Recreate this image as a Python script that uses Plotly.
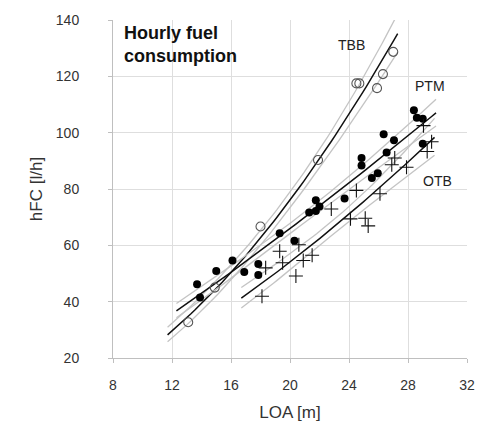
import numpy as np
import plotly.graph_objects as go

# --- data ---
tbb_loa = [13.1, 14.9, 18.0, 21.9, 24.5, 24.7, 25.9, 26.3, 27.0]
tbb_hfc = [32.7, 45.0, 66.7, 90.3, 117.5, 117.5, 115.8, 120.8, 128.7]

ptm_loa = [13.7, 13.9, 15.0, 16.1, 16.9, 17.85, 17.85, 19.3, 20.3, 21.3, 21.75, 21.75,
           22.0, 23.7, 24.85, 24.85, 25.55, 25.95, 26.35, 26.55, 27.05, 28.4, 28.6, 29.0, 29.0]
ptm_hfc = [46.2, 41.5, 50.9, 54.6, 50.5, 53.4, 49.5, 64.3, 61.6, 71.7, 72.2, 76.0,
           73.8, 76.6, 91.0, 88.3, 83.9, 85.6, 99.4, 93.0, 97.3, 108.0, 105.3, 104.9, 96.1]

otb_loa = [18.1, 18.35, 19.3, 19.5, 20.4, 20.6, 20.9, 21.5, 22.8, 24.1, 24.5, 25.1,
           25.3, 26.1, 26.9, 27.1, 27.9, 29.05, 29.3, 29.6]
otb_hfc = [41.9, 52.0, 57.9, 53.8, 49.1, 60.2, 54.6, 56.5, 72.9, 69.4, 79.5, 69.6,
           66.9, 78.3, 88.6, 91.0, 87.7, 102.5, 93.3, 96.8]

# extent of each fitted trend line (LOA, m)
tbb_fit_range = [11.7, 27.3]
ptm_fit_range = [12.3, 29.9]
otb_fit_range = [16.7, 29.8]

x_ticks = [8, 12, 16, 20, 24, 28, 32]
y_ticks = [20, 40, 60, 80, 100, 120, 140]

FONT = "Liberation Sans, Arial, sans-serif"


def power_fit(xs, ys, xr, t=2.0):
    lx, ly = np.log(xs), np.log(ys)
    b, a = np.polyfit(lx, ly, 1)
    n = len(lx)
    res = ly - (a + b * lx)
    s = np.sqrt(np.sum(res ** 2) / (n - 2))
    sxx = np.sum((lx - lx.mean()) ** 2)
    xx = np.linspace(xr[0], xr[1], 60)
    lxx = np.log(xx)
    fit = a + b * lxx
    se = s * np.sqrt(1.0 / n + (lxx - lx.mean()) ** 2 / sxx)
    return xx, np.exp(fit), np.exp(fit - t * se), np.exp(fit + t * se)


fig = go.Figure()

for xs, ys, xr in [(tbb_loa, tbb_hfc, tbb_fit_range),
                   (ptm_loa, ptm_hfc, ptm_fit_range),
                   (otb_loa, otb_hfc, otb_fit_range)]:
    xx, yf, lo, hi = power_fit(np.array(xs), np.array(ys), xr)
    for band in (lo, hi):
        fig.add_trace(go.Scatter(x=xx, y=band, mode="lines",
                                 line=dict(color="#c4c4c4", width=1.3),
                                 hoverinfo="skip", showlegend=False))
    fig.add_trace(go.Scatter(x=xx, y=yf, mode="lines",
                             line=dict(color="#111111", width=1.5),
                             hoverinfo="skip", showlegend=False))

fig.add_trace(go.Scatter(x=tbb_loa, y=tbb_hfc, mode="markers", name="TBB",
                         marker=dict(symbol="circle-open", size=9, color="#555555",
                                     line=dict(width=1.1, color="#555555")),
                         showlegend=False))
fig.add_trace(go.Scatter(x=ptm_loa, y=ptm_hfc, mode="markers", name="PTM",
                         marker=dict(symbol="circle", size=8, color="#000000"),
                         showlegend=False))
fig.add_trace(go.Scatter(x=otb_loa, y=otb_hfc, mode="markers", name="OTB",
                         marker=dict(symbol="cross-thin", size=10,
                                     line=dict(width=1.1, color="#111111")),
                         showlegend=False))

for txt, x, y in [("TBB", 24.2, 131.0), ("PTM", 29.5, 116.4), ("OTB", 30.0, 82.8)]:
    fig.add_annotation(x=x, y=y, text=txt, showarrow=False,
                       font=dict(family=FONT, size=14, color="#222222"))

fig.add_annotation(x=8.6, y=139.8, xanchor="left", yanchor="top", align="left",
                   text="<b>Hourly fuel<br>consumption</b>", showarrow=False,
                   font=dict(family=FONT, size=18, color="#111111"))

fig.update_layout(
    width=492, height=432,
    margin=dict(l=113, r=25, t=16, b=74),
    paper_bgcolor="white", plot_bgcolor="white",
    font=dict(family=FONT, size=14, color="#333333"),
    xaxis=dict(range=[8, 32], tickvals=x_ticks, ticktext=[str(v) for v in x_ticks],
               showgrid=True, gridcolor="#dedede", gridwidth=1,
               showline=True, linecolor="#bfbfbf", linewidth=1,
               ticks="outside", ticklen=4, tickcolor="#bfbfbf",
               ticklabelstandoff=10, zeroline=False,
               title=dict(text="LOA [m]", font=dict(size=17), standoff=14)),
    yaxis=dict(range=[20, 140], tickvals=y_ticks, ticktext=[str(v) for v in y_ticks],
               showgrid=True, gridcolor="#dedede", gridwidth=1,
               showline=True, linecolor="#bfbfbf", linewidth=1,
               ticks="outside", ticklen=4, tickcolor="#bfbfbf",
               ticklabelstandoff=26, zeroline=False,
               title=dict(text="hFC [l/h]", font=dict(size=17), standoff=8)),
)

fig.write_html("out.html", config={"displayModeBar": False},
               post_script="document.body.style.margin='0';document.body.style.padding='0';")
